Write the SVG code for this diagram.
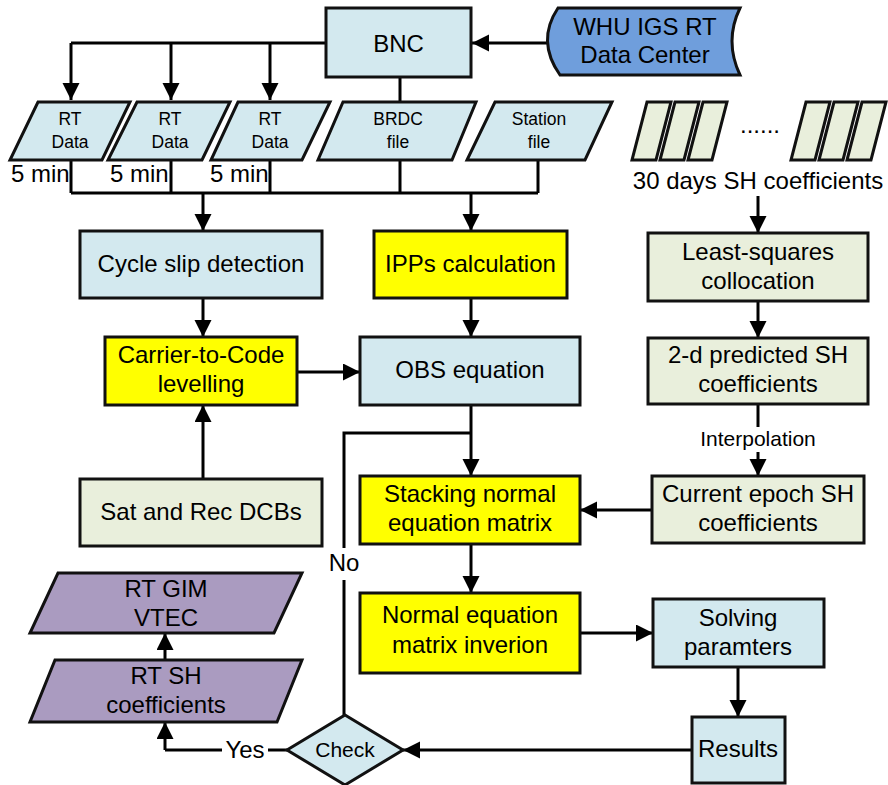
<svg xmlns="http://www.w3.org/2000/svg" width="888" height="785" viewBox="0 0 888 785">
<defs>
<marker id="ah" markerUnits="userSpaceOnUse" markerWidth="18" markerHeight="18" refX="17" refY="8.5" orient="auto">
<path d="M0,0 L17,8.5 L0,17 Z" fill="#000"/>
</marker>
<style>
.box{stroke:#111;stroke-width:3}
.blue{fill:#d3e9ef}
.yel{fill:#ffff00}
.grn{fill:#e9efdc}
.pur{fill:#aa9bc0}
.dc{fill:#6f9edc}
.ln{fill:none;stroke:#000;stroke-width:3}
.arr{fill:none;stroke:#000;stroke-width:3;marker-end:url(#ah)}
text{font-family:"Liberation Sans",Arial,sans-serif;fill:#000;text-anchor:middle}
.t24{font-size:24px}
.t17{font-size:17.5px}
.t21{font-size:21px}
.st{text-anchor:start}
</style>
</defs>
<rect width="888" height="785" fill="#fff"/>

<g id="connectors">
<path class="ln" d="M326,43 H71"/>
<path class="arr" d="M71,43 V100"/>
<path class="arr" d="M171,43 V100"/>
<path class="arr" d="M270,43 V100"/>
<path class="arr" d="M548,43 H472"/>
<path class="ln" d="M400,77 V101"/>
<path class="ln" d="M71,160 V193 M171,160 V193 M270,160 V193 M400,160 V193 M538,160 V193 M71,193 H538"/>
<path class="arr" d="M203,193 V231"/>
<path class="arr" d="M471,193 V231"/>
<path class="arr" d="M203,298 V337"/>
<path class="arr" d="M471,298 V337"/>
<path class="arr" d="M297,372 H360"/>
<path class="arr" d="M203,479 V405"/>
<path class="arr" d="M471,405 V476"/>
<path class="ln" d="M344,715 V580 M344,548 V433 H471"/>
<path class="arr" d="M758,196 V233"/>
<path class="arr" d="M758,301 V338"/>
<path class="ln" d="M758,404 V427"/>
<path class="arr" d="M758,452 V476"/>
<path class="arr" d="M652,510 H580"/>
<path class="arr" d="M471,544 V593"/>
<path class="arr" d="M580,633 H653"/>
<path class="arr" d="M738,667 V717"/>
<path class="arr" d="M692,750 H403"/>
<path class="ln" d="M287,750 H268 M222,750 H165"/>
<path class="arr" d="M165,750 V722"/>
<path class="arr" d="M165,660 V633"/>
<text class="t21" x="758" y="446">Interpolation</text>
<text class="t24" x="344" y="571">No</text>
<text class="t24" x="245" y="758">Yes</text>
</g>

<g id="bnc">
<rect class="box blue" x="326" y="8" width="145" height="69"/>
<text class="t24" x="398.5" y="52">BNC</text>
</g>

<g id="whu">
<path class="box dc" d="M558,8 H740 Q724,41 740,75 H560 Q536,41 558,8 Z"/>
<text class="t24" x="645" y="35">WHU IGS RT</text>
<text class="t24" x="645" y="63">Data Center</text>
</g>

<g id="rtdata1">
<path class="box blue" d="M38,102 H130 L102,160 H10 Z"/>
<text class="t17" x="70" y="125">RT</text>
<text class="t17" x="70" y="148">Data</text>
</g>
<g id="rtdata2">
<path class="box blue" d="M137,102 H230 L202,160 H108 Z"/>
<text class="t17" x="170" y="125">RT</text>
<text class="t17" x="170" y="148">Data</text>
</g>
<g id="rtdata3">
<path class="box blue" d="M238,102 H330 L302,160 H211 Z"/>
<text class="t17" x="270" y="125">RT</text>
<text class="t17" x="270" y="148">Data</text>
</g>
<g id="brdc">
<path class="box blue" d="M343,102 H476 L452,160 H318 Z"/>
<text class="t17" x="398" y="125">BRDC</text>
<text class="t17" x="398" y="148">file</text>
</g>
<g id="station">
<path class="box blue" d="M495,102 H612 L585,160 H467 Z"/>
<text class="t17" x="539" y="125">Station</text>
<text class="t17" x="539" y="148">file</text>
</g>

<g id="labels5min">
<text class="t24 st" x="11" y="182">5 min</text>
<text class="t24 st" x="110" y="182">5 min</text>
<text class="t24 st" x="210" y="182">5 min</text>
</g>

<g id="sh30">
<path class="box grn" d="M647,102 H671 L656,160 H632 Z"/>
<path class="box grn" d="M675,102 H699 L684,160 H660 Z"/>
<path class="box grn" d="M703,102 H727 L712,160 H688 Z"/>
<path class="box grn" d="M806,102 H830 L815,160 H791 Z"/>
<path class="box grn" d="M834,102 H858 L843,160 H819 Z"/>
<path class="box grn" d="M862,102 H886 L871,160 H847 Z"/>
<text class="t24" x="760" y="133">......</text>
<text class="t24" x="758" y="189">30 days SH coefficients</text>
</g>

<g id="cycleslip">
<rect class="box blue" x="80" y="231" width="242" height="67"/>
<text class="t24" x="201" y="272">Cycle slip detection</text>
</g>
<g id="ipps">
<rect class="box yel" x="374" y="231" width="193" height="67"/>
<text class="t24" x="470.5" y="272">IPPs calculation</text>
</g>
<g id="carrier">
<rect class="box yel" x="105" y="337" width="192" height="68"/>
<text class="t24" x="201" y="363">Carrier-to-Code</text>
<text class="t24" x="201" y="392">levelling</text>
</g>
<g id="obs">
<rect class="box blue" x="360" y="337" width="220" height="68"/>
<text class="t24" x="470" y="378">OBS equation</text>
</g>
<g id="dcb">
<rect class="box grn" x="80" y="479" width="242" height="67"/>
<text class="t24" x="201" y="520">Sat and Rec DCBs</text>
</g>
<g id="stacking">
<rect class="box yel" x="360" y="476" width="220" height="68"/>
<text class="t24" x="470" y="502">Stacking normal</text>
<text class="t24" x="470" y="531">equation matrix</text>
</g>
<g id="inversion">
<rect class="box yel" x="360" y="593" width="220" height="80"/>
<text class="t24" x="470" y="623">Normal equation</text>
<text class="t24" x="470" y="653">matrix inverion</text>
</g>
<g id="lsc">
<rect class="box grn" x="648" y="233" width="220" height="68"/>
<text class="t24" x="758" y="260">Least-squares</text>
<text class="t24" x="758" y="289">collocation</text>
</g>
<g id="pred">
<rect class="box grn" x="648" y="338" width="220" height="66"/>
<text class="t24" x="758" y="363">2-d predicted SH</text>
<text class="t24" x="758" y="392">coefficients</text>
</g>
<g id="current">
<rect class="box grn" x="652" y="476" width="212" height="67"/>
<text class="t24" x="758" y="502">Current epoch SH</text>
<text class="t24" x="758" y="531">coefficients</text>
</g>
<g id="solving">
<rect class="box blue" x="653" y="599" width="171" height="68"/>
<text class="t24" x="738" y="626">Solving</text>
<text class="t24" x="738" y="655">paramters</text>
</g>
<g id="results">
<rect class="box blue" x="692" y="717" width="93" height="66"/>
<text class="t24" x="738" y="757">Results</text>
</g>
<g id="check">
<path class="box blue" d="M345,715 L403,750 L345,785 L287,750 Z"/>
<text class="t21" x="345" y="757">Check</text>
</g>
<g id="rtgim">
<path class="box pur" d="M58,573 H302 L274,633 H30 Z"/>
<text class="t24" x="166" y="597">RT GIM</text>
<text class="t24" x="166" y="626">VTEC</text>
</g>
<g id="rtsh">
<path class="box pur" d="M55,660 H302 L277,722 H30 Z"/>
<text class="t24" x="166" y="684">RT SH</text>
<text class="t24" x="166" y="713">coefficients</text>
</g>
</svg>
